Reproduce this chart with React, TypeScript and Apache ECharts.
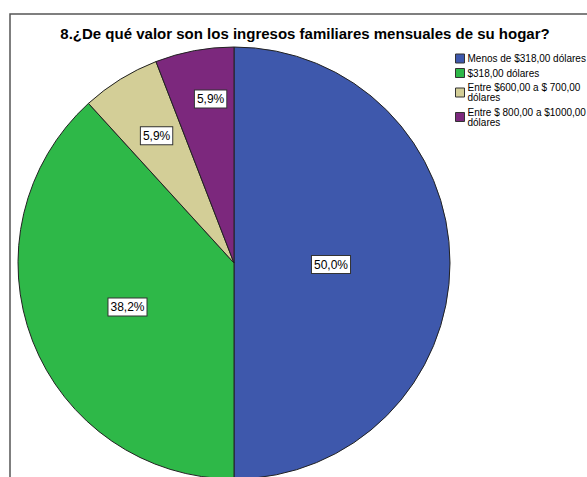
import React, { useEffect, useRef } from "react";
import * as echarts from "echarts";

const titleText = "8.¿De qué valor son los ingresos familiares mensuales de su hogar?";
const categories = [
  "Menos de $318,00 dólares",
  "$318,00 dólares",
  "Entre $600,00 a $ 700,00 dólares",
  "Entre $ 800,00 a $1000,00 dólares",
];
const counts = [17, 13, 2, 2];
const colors = ["#3E58AC", "#2EB848", "#D3CE97", "#7C287D"];
const labelOffsets = [
  [-14, 1.5],
  [-3, 4],
  [-19, -33],
  [-3, -55],
];

export default function App() {
  const ref = useRef<HTMLDivElement>(null);
  useEffect(() => {
    if (!ref.current) return;
    const chart = echarts.init(ref.current, undefined, { renderer: "svg" });
    chart.setOption({
      animation: false,
      backgroundColor: "#ffffff",
      title: {
        text: titleText,
        left: 300,
        textAlign: "center",
        top: 21,
        textStyle: {
          fontFamily: "Liberation Sans, Arial, sans-serif",
          fontSize: 15,
          fontWeight: "bold",
          color: "#000",
        },
      },
      legend: {
        orient: "vertical",
        left: 450,
        top: 48.5,
        itemWidth: 9,
        itemHeight: 9,
        itemGap: 4.5,
        icon: "rect",
        itemStyle: { borderColor: "#333", borderWidth: 1 },
        textStyle: {
          fontFamily: "Liberation Sans, Arial, sans-serif",
          fontSize: 10,
          lineHeight: 10,
          color: "#000",
          padding: [0, 0, 0, -2],
        },
        formatter: (name: string) =>
          name.startsWith("Entre") ? name.replace(/ dólares$/, "\ndólares") : name,
        data: categories,
      },
      graphic: [
        {
          type: "rect",
          shape: { x: 10, y: 14, width: 620, height: 520 },
          style: { fill: "none", stroke: "#555", lineWidth: 1.5 },
          silent: true,
        },
      ],
      series: [
        {
          type: "pie",
          center: [234, 263],
          radius: 216,
          startAngle: 90,
          clockwise: true,
          data: categories.map((c, i) => ({
            name: c,
            value: counts[i],
            itemStyle: { color: colors[i] },
          })),
          itemStyle: { borderColor: "#222", borderWidth: 1 },
          emphasis: { disabled: true },
          label: {
            show: true,
            position: "inside",
            formatter: (p: any) => p.percent.toFixed(1).replace(".", ",") + "%",
            fontFamily: "Liberation Sans, Arial, sans-serif",
            fontSize: 12,
            color: "#000",
            backgroundColor: "#fff",
            borderColor: "#333",
            borderWidth: 1,
            padding: [3, 2, 2, 2],
          },
          labelLine: { show: false },
          labelLayout: (p: any) => ({
            dx: labelOffsets[p.dataIndex][0],
            dy: labelOffsets[p.dataIndex][1],
          }),
        },
      ],
    });
    return () => chart.dispose();
  }, []);
  return (
    <div
      ref={ref}
      style={{ position: "fixed", left: 0, top: 0, width: 587, height: 477 }}
    />
  );
}
